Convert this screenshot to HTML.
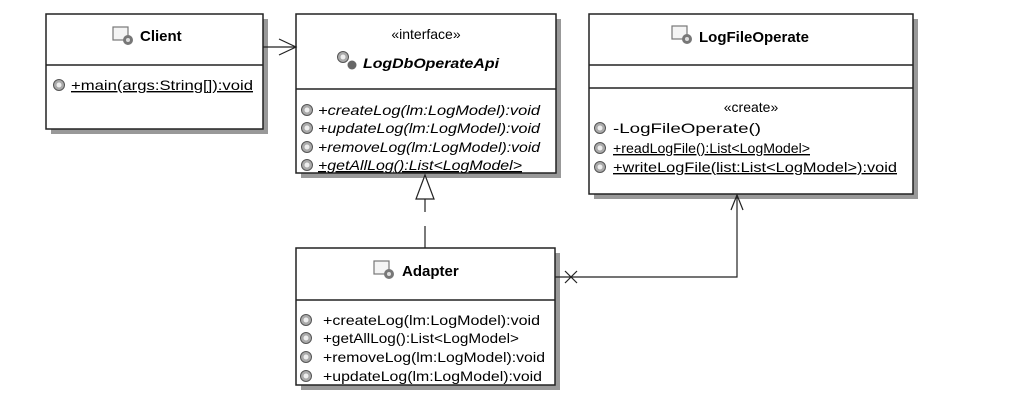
<!DOCTYPE html>
<html><head><meta charset="utf-8"><style>
html,body{margin:0;padding:0;background:#fff;}
svg{display:block;font-family:"Liberation Sans","DejaVu Sans",sans-serif;}
.t{font-size:14px;fill:#000;}
.b{font-size:15px;font-weight:bold;fill:#000;}
.i{font-size:14px;font-style:italic;fill:#000;}
</style></head><body>
<svg width="1027" height="413" viewBox="0 0 1027 413" xmlns="http://www.w3.org/2000/svg">
<defs>
<g id="op"><circle cx="0" cy="0" r="5.5" fill="#aaa" stroke="#555" stroke-width="1"/><circle cx="0" cy="0" r="2.5" fill="#eee"/></g>
<g id="ci"><rect x="0" y="0" width="15" height="13" fill="#f4f4f4" stroke="#777" stroke-width="1.2"/><circle cx="15" cy="13" r="5" fill="#777"/><circle cx="15" cy="13" r="2" fill="#ddd"/></g>
</defs>
<g fill="#999">
<rect x="51" y="19" width="217" height="115"/>
<rect x="301" y="19" width="260" height="159"/>
<rect x="594" y="19" width="324" height="180"/>
<rect x="301" y="253" width="259" height="137"/>
</g>
<g fill="#fff" stroke="#222" stroke-width="1.5">
<rect x="46" y="14" width="217" height="115"/>
<rect x="296" y="14" width="260" height="159"/>
<rect x="589" y="14" width="324" height="180"/>
<rect x="296" y="248" width="259" height="137"/>
</g>
<g stroke="#222" stroke-width="1.5">
<line x1="46" y1="65" x2="263" y2="65"/>
<line x1="296" y1="89" x2="556" y2="89"/>
<line x1="589" y1="65" x2="913" y2="65"/>
<line x1="589" y1="88" x2="913" y2="88"/>
<line x1="296" y1="300" x2="555" y2="300"/>
</g>
<g stroke="#222" stroke-width="1.2" fill="none">
<line x1="263" y1="47" x2="296" y2="47"/>
<polyline points="279,39 296,47 279,55"/>
<line x1="425" y1="199" x2="425" y2="212"/>
<line x1="425" y1="226" x2="425" y2="248"/>
<polygon points="425,175 416,199 434,199" fill="#fff"/>
<polyline points="555,277 737,277 737,195"/>
<polyline points="731,210 737,195 743,210"/>
<line x1="565" y1="271" x2="577" y2="283"/>
<line x1="565" y1="283" x2="577" y2="271"/>
</g>
<use href="#ci" x="113" y="27"/>
<text class="b" x="140" y="41">Client</text>
<use href="#op" x="59" y="85"/>
<text class="t" x="71" y="90" text-decoration="underline" textLength="182" lengthAdjust="spacingAndGlyphs">+main(args:String[]):void</text>
<text class="t" x="426" y="39" text-anchor="middle" font-size="13">«interface»</text>
<use href="#op" x="343" y="57"/><circle cx="352" cy="65" r="4.5" fill="#666"/>
<text class="i" x="363" y="68" font-weight="bold" font-size="15" textLength="136" lengthAdjust="spacingAndGlyphs">LogDbOperateApi</text>
<use href="#op" x="307" y="110"/><text class="i" x="318" y="115" textLength="222" lengthAdjust="spacingAndGlyphs">+createLog(lm:LogModel):void</text>
<use href="#op" x="307" y="128"/><text class="i" x="318" y="133" textLength="222" lengthAdjust="spacingAndGlyphs">+updateLog(lm:LogModel):void</text>
<use href="#op" x="307" y="147"/><text class="i" x="318" y="152" textLength="222" lengthAdjust="spacingAndGlyphs">+removeLog(lm:LogModel):void</text>
<use href="#op" x="307" y="165"/><text class="i" x="318" y="170" textLength="204" lengthAdjust="spacingAndGlyphs" text-decoration="underline">+getAllLog():List&lt;LogModel&gt;</text>
<use href="#ci" x="672" y="26"/>
<text class="b" x="699" y="42">LogFileOperate</text>
<text class="t" x="751" y="112" text-anchor="middle" font-size="13">«create»</text>
<use href="#op" x="600" y="128"/><text class="t" x="613" y="133" textLength="148" lengthAdjust="spacingAndGlyphs">-LogFileOperate()</text>
<use href="#op" x="600" y="148"/><text class="t" x="613" y="153" textLength="197" lengthAdjust="spacingAndGlyphs" text-decoration="underline">+readLogFile():List&lt;LogModel&gt;</text>
<use href="#op" x="600" y="167"/><text class="t" x="613" y="172" textLength="284" lengthAdjust="spacingAndGlyphs" text-decoration="underline">+writeLogFile(list:List&lt;LogModel&gt;):void</text>
<use href="#ci" x="374" y="261"/>
<text class="b" x="402" y="276">Adapter</text>
<use href="#op" x="306" y="320"/><text class="t" x="323" y="325" textLength="217" lengthAdjust="spacingAndGlyphs">+createLog(lm:LogModel):void</text>
<use href="#op" x="306" y="338"/><text class="t" x="323" y="343" textLength="196" lengthAdjust="spacingAndGlyphs">+getAllLog():List&lt;LogModel&gt;</text>
<use href="#op" x="306" y="357"/><text class="t" x="323" y="362" textLength="222" lengthAdjust="spacingAndGlyphs">+removeLog(lm:LogModel):void</text>
<use href="#op" x="306" y="376"/><text class="t" x="323" y="381" textLength="219" lengthAdjust="spacingAndGlyphs">+updateLog(lm:LogModel):void</text>
</svg>
</body></html>
